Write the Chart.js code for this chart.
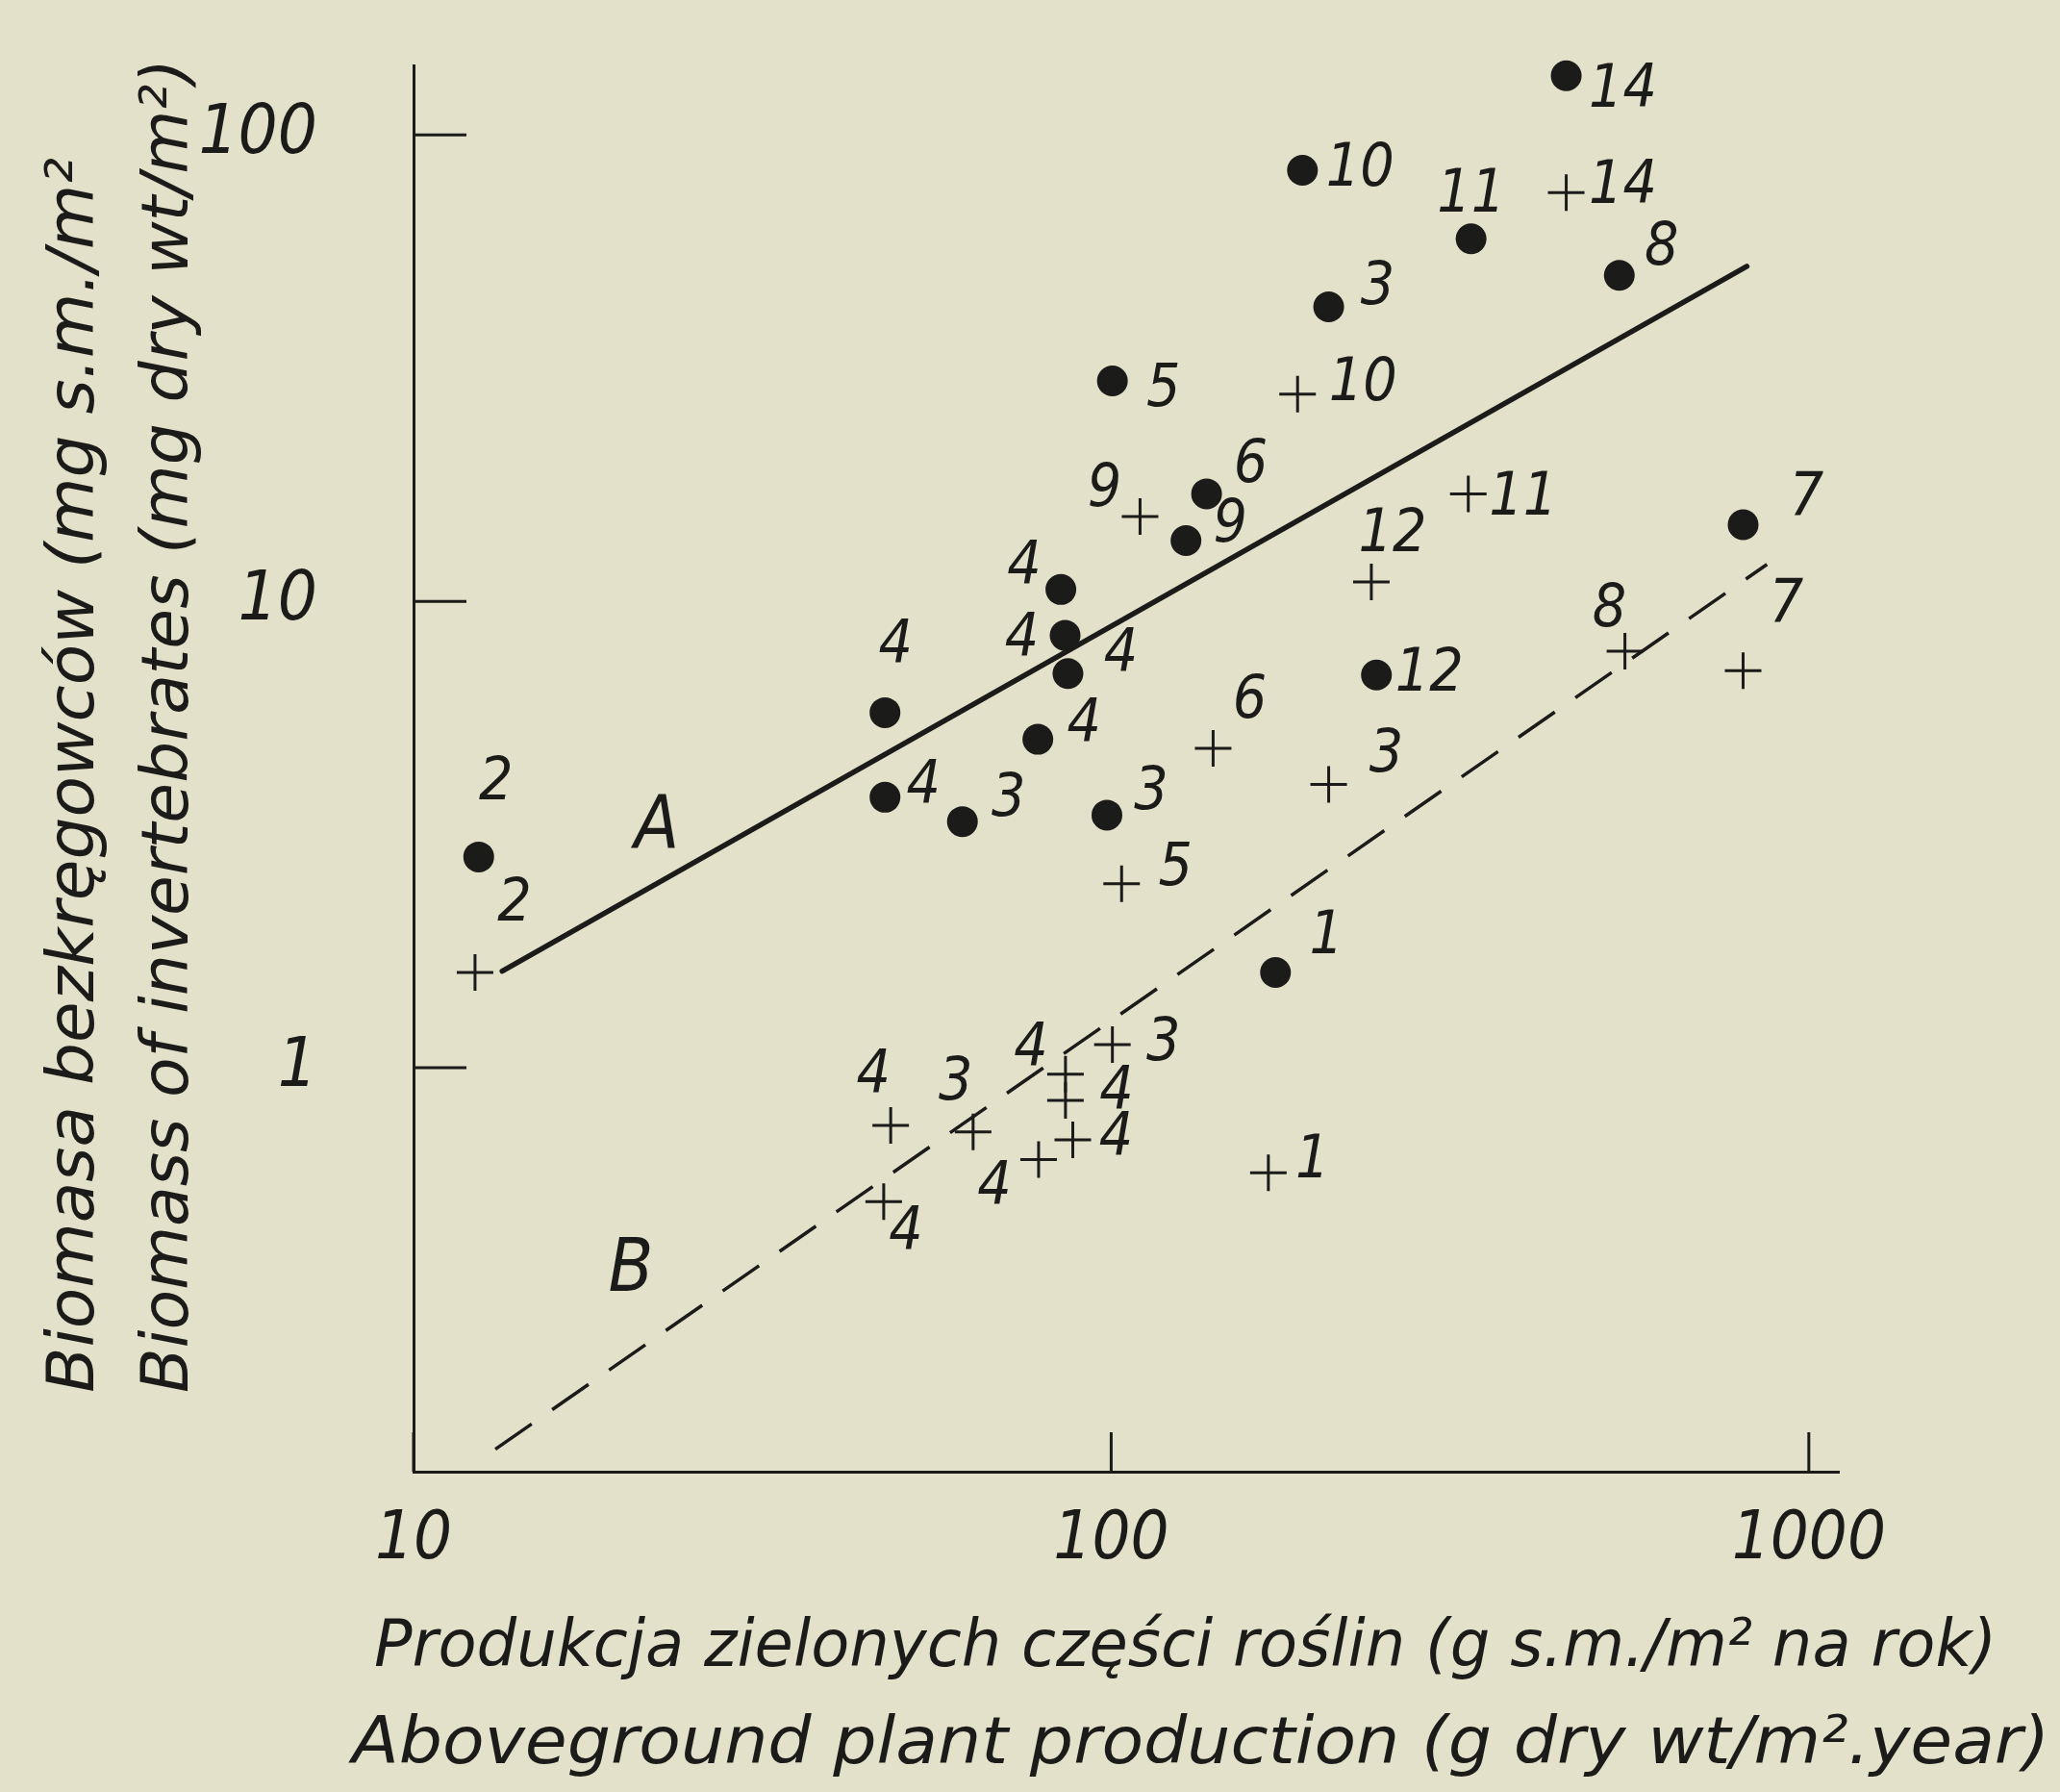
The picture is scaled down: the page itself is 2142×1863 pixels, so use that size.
<!DOCTYPE html>
<html>
<head>
<meta charset="utf-8">
<title>Biomasa bezkręgowców a produkcja roślin</title>
<script src="https://cdn.jsdelivr.net/npm/chart.js@4.4.1/dist/chart.umd.min.js"></script>
<style>
    html, body { margin: 0; padding: 0; background: #e4e1cb; }
    canvas { display: block; }
</style>
</head>
<body>
<canvas id="chart" width="2142" height="1863"></canvas>
<script>
// --- data (log-log) ---

// filled circles: invertebrate biomass
const dotX = [12.4, 449, 188, 328, 535, 205, 100.4, 137, 128, 805, 84.7, 85.9, 86.7, 47.4, 78.5, 47.4, 61.2, 98.6, 240, 172];
const dotY = [2.83, 134, 84, 59.9, 50, 42.8, 29.7, 17.0, 13.5, 14.6, 10.6, 8.45, 7.0, 5.77, 5.06, 3.80, 3.37, 3.48, 6.95, 1.60];
const dotLabels = ['2', '14', '10', '11', '8', '3', '5', '6', '9', '7', '4', '4', '4', '4', '4', '4', '3', '3', '12', '1'];

// crosses
const crossX = [12.25, 449, 185, 325, 110, 236, 545, 805, 140, 205, 103.5, 100.4, 86, 86, 88.1, 78.7, 48.3, 63.4, 47.2, 168];
const crossY = [1.60, 75.2, 27.8, 17.0, 15.2, 11.0, 7.82, 7.1, 4.84, 4.05, 2.48, 1.12, 0.968, 0.851, 0.70, 0.635, 0.752, 0.728, 0.516, 0.595];
const crossLabels = ['2', '14', '10', '11', '9', '12', '8', '7', '6', '3', '5', '3', '4', '4', '4', '4', '4', '3', '4', '1'];

// regression lines A (solid) and B (dashed), end points
const lineAX = [13.4, 815];
const lineAY = [1.61, 52.3];
const lineBX = [13.1, 871];
const lineBY = [0.152, 12.0];

const xTicks = [10, 100, 1000];
const yTicks = [1, 10, 100];

const xTitle = ['Produkcja zielonych części roślin (g s.m./m² na rok)', 'Aboveground plant production (g dry wt/m².year)'];
const yTitle = ['Biomasa bezkręgowców (mg s.m./m²', 'Biomass of invertebrates (mg dry wt/m²)'];

// --- layout / style (kept apart from the data) ---
const INK = '#1b1b19';
const PAPER = '#e4e1cb';
const FONT = '"Liberation Sans Narrow", "DejaVu Sans Condensed", "DejaVu Sans", sans-serif';

// label offsets in px, relative to the marker
const dotLabelOffsets = [[18,-76],[59,16],[60,0],[0,-44],[44,-27],[51,-19],[53,10],[46,-29],[46,-15],[66,-27],
    [-38,-22],[-45,5],[55,-18],[11,-68],[48,-14],[40,-10],[48,-22],[46,-22],[55,0],[53,-36]];
const crossLabelOffsets = [[41,-70],[59,-5],[68,-10],[57,5],[-37,-27],[22,-48],[-16,-42],[45,-67],[38,-48],[60,-30],
    [56,-15],[53,0],[-36,-25],[53,-7],[45,0],[-46,30],[-18,-50],[-18,-50],[23,34],[46,-11]];

const toPoints = (xs, ys) => xs.map((x, i) => ({ x: x, y: ys[i] }));

// widen the lettering a bit so a line spans the same width as in the print
function stretchText(ctx, text, x, y, width) {
    const w = ctx.measureText(text).width;
    const sx = width / w;
    ctx.save();
    ctx.translate(x, y);
    ctx.scale(sx, 1);
    ctx.fillText(text, 0, 0);
    ctx.restore();
}

const paperBg = {
    id: 'paperBg',
    beforeDraw(chart) {
        const ctx = chart.ctx;
        ctx.save();
        ctx.fillStyle = PAPER;
        ctx.fillRect(0, 0, chart.width, chart.height);
        ctx.restore();
    }
};

// tick marks point into the plot, as in the original
const inwardTicks = {
    id: 'inwardTicks',
    afterDraw(chart) {
        const { ctx, chartArea, scales } = chart;
        ctx.save();
        ctx.strokeStyle = INK;
        ctx.lineWidth = 3;
        ctx.beginPath();
        xTicks.forEach(v => {
            const px = scales.x.getPixelForValue(v);
            ctx.moveTo(px, chartArea.bottom);
            ctx.lineTo(px, chartArea.bottom - 41);
        });
        yTicks.forEach(v => {
            const py = scales.y.getPixelForValue(v);
            ctx.moveTo(chartArea.left, py);
            ctx.lineTo(chartArea.left + 55, py);
        });
        ctx.stroke();
        ctx.restore();
    }
};

const pointLabels = {
    id: 'pointLabels',
    afterDatasetsDraw(chart) {
        const ctx = chart.ctx;
        ctx.save();
        ctx.fillStyle = INK;
        ctx.font = 'italic 62px ' + FONT;
        ctx.textAlign = 'center';
        ctx.textBaseline = 'middle';
        chart.data.datasets.forEach((ds, di) => {
            if (!ds.pointLabels) return;
            const meta = chart.getDatasetMeta(di);
            meta.data.forEach((el, i) => {
                const off = ds.labelOffsets[i];
                ctx.fillText(ds.pointLabels[i], el.x + off[0], el.y + off[1]);
            });
        });
        ctx.restore();
    }
};

const titles = {
    id: 'titles',
    afterDraw(chart) {
        const ctx = chart.ctx;
        ctx.save();
        ctx.fillStyle = INK;
        ctx.font = 'italic 68px ' + FONT;
        ctx.textBaseline = 'alphabetic';
        ctx.textAlign = 'left';
        stretchText(ctx, xTitle[0], 389, 1732, 1687);
        stretchText(ctx, xTitle[1], 366, 1833, 1765);

        [[yTitle[0], 97, 1284], [yTitle[1], 195, 1387]].forEach(([t, x, w]) => {
            ctx.save();
            ctx.translate(x, 1448);
            ctx.rotate(-Math.PI / 2);
            stretchText(ctx, t, 0, 0, w);
            ctx.restore();
        });

        // line letters
        ctx.font = 'italic 76px ' + FONT;
        ctx.textAlign = 'center';
        ctx.textBaseline = 'middle';
        ctx.fillText('A', 683, 861);
        ctx.fillText('B', 656, 1322);
        ctx.restore();
    }
};

new Chart(document.getElementById('chart'), {
    type: 'scatter',
    data: {
        datasets: [
            {
                label: 'dots',
                data: toPoints(dotX, dotY),
                pointStyle: 'circle',
                pointRadius: 16,
                backgroundColor: INK,
                borderWidth: 0,
                pointLabels: dotLabels,
                labelOffsets: dotLabelOffsets,
                clip: false
            },
            {
                label: 'crosses',
                data: toPoints(crossX, crossY),
                pointStyle: 'cross',
                pointRadius: 19,
                borderColor: INK,
                borderWidth: 3,
                pointLabels: crossLabels,
                labelOffsets: crossLabelOffsets,
                clip: false
            },
            {
                label: 'A',
                data: toPoints(lineAX, lineAY),
                showLine: true,
                borderColor: INK,
                borderWidth: 5.5,
                pointRadius: 0,
                borderCapStyle: 'round'
            },
            {
                label: 'B',
                data: toPoints(lineBX, lineBY),
                showLine: true,
                borderColor: INK,
                borderWidth: 3.5,
                borderDash: [46, 26],
                pointRadius: 0
            }
        ]
    },
    options: {
        responsive: false,
        animation: false,
        layout: { padding: { left: 0, top: 68, right: 230, bottom: 0 } },
        plugins: {
            legend: { display: false },
            tooltip: { enabled: false }
        },
        scales: {
            x: {
                type: 'logarithmic',
                min: 10,
                max: 1104,
                grid: { display: false },
                border: { display: true, color: INK, width: 3 },
                afterBuildTicks: scale => { scale.ticks = xTicks.map(v => ({ value: v })); },
                afterFit: scale => { scale.height = 333; },
                ticks: {
                    color: INK,
                    padding: 22,
                    maxRotation: 0,
                    autoSkip: false,
                    font: { family: FONT, size: 70, style: 'italic' },
                    callback: v => String(v)
                }
            },
            y: {
                type: 'logarithmic',
                min: 0.136,
                max: 141,
                grid: { display: false },
                border: { display: true, color: INK, width: 3 },
                afterBuildTicks: scale => { scale.ticks = yTicks.map(v => ({ value: v })); },
                afterFit: scale => {
                    scale.width = 430;
                    scale.paddingTop = 0;
                    scale.paddingBottom = 0;
                },
                ticks: {
                    color: INK,
                    padding: 92,
                    autoSkip: false,
                    font: { family: FONT, size: 72, style: 'italic' },
                    callback: v => String(v)
                }
            }
        }
    },
    plugins: [paperBg, inwardTicks, pointLabels, titles]
});
</script>
</body>
</html>
